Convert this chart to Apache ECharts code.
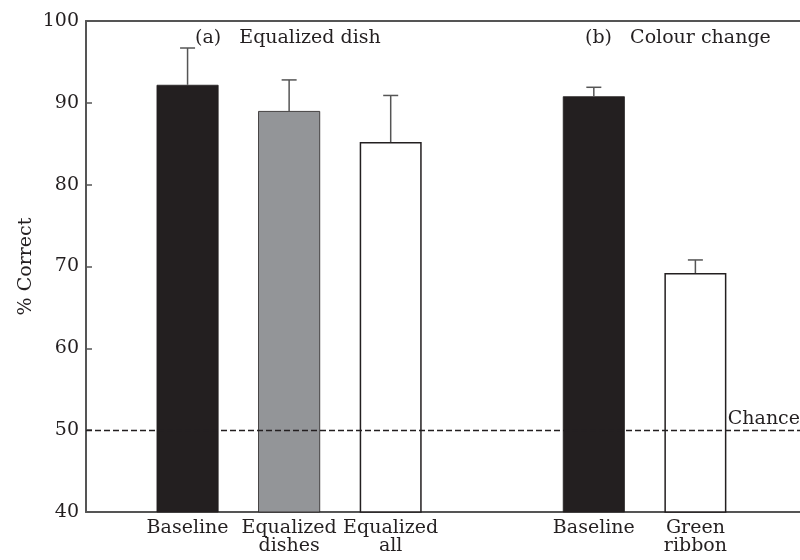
<!DOCTYPE html>
<html>
<head>
<meta charset="utf-8">
<script src="https://cdn.jsdelivr.net/npm/echarts@6/dist/echarts.min.js"></script>
<style>
  html, body { margin: 0; padding: 0; background: #fff; }
  #chart { width: 800px; height: 560px; }
</style>
</head>
<body>
<div id="chart"></div>
<script>
// slot positions on the x scale (gap at 4 splits panel a from panel b)
const positions = [1, 2, 3, 5, 6]
const labels = ['Baseline', 'Equalized\ndishes', 'Equalized\nall', 'Baseline', 'Green\nribbon']
const means = [92.2, 89.0, 85.2, 90.8, 69.2]
const upper = [96.7, 92.8, 90.9, 91.9, 70.8]
const fills = ['#231f20', '#939598', '#ffffff', '#231f20', '#ffffff']
const chanceLevel = 50

const ink = '#231f20'
const axisGrey = '#555555'
const font = 'DejaVu Serif'

const chart = echarts.init(document.getElementById('chart'))

const labelFor = {}
positions.forEach((p, i) => { labelFor[p] = labels[i] })

const barData = positions.map((p, i) => ({
  value: [p, means[i]],
  itemStyle: { color: fills[i], borderColor: ink, borderWidth: fills[i] === '#ffffff' ? 1.5 : 0.8 }
}))
const errData = positions.map((p, i) => [p, means[i], upper[i]])

const option = {
  animation: false,
  grid: { left: 86, right: 0, top: 21, bottom: 48 },
  xAxis: [
    {
      type: 'value',
      min: 0,
      max: 7.03,
      interval: 1,
      splitLine: { show: false },
      axisLine: { lineStyle: { color: axisGrey, width: 2 } },
      axisTick: { show: false },
      axisLabel: {
        color: ink,
        fontFamily: font,
        fontSize: 19,
        lineHeight: 18,
        margin: 7,
        showMinLabel: true,
        showMaxLabel: false,
        formatter: v => labelFor[v] || ''
      }
    },
    {
      type: 'value',
      position: 'top',
      min: 0,
      max: 7.03,
      splitLine: { show: false },
      axisLine: { show: true, lineStyle: { color: axisGrey, width: 2 } },
      axisTick: { show: false },
      axisLabel: { show: false }
    }
  ],
  yAxis: {
    type: 'value',
    min: 40,
    max: 100,
    interval: 10,
    name: '% Correct',
    nameLocation: 'middle',
    nameGap: 50,
    nameMoveOverlap: false,
    nameTextStyle: { color: ink, fontFamily: font, fontSize: 19 },
    splitLine: { show: false },
    axisLine: { show: true, lineStyle: { color: axisGrey, width: 2 } },
    axisTick: { show: true, inside: true, length: 6, lineStyle: { color: axisGrey, width: 1.5 } },
    axisLabel: { color: ink, fontFamily: font, fontSize: 19, margin: 7 }
  },
  graphic: [
    {
      type: 'text', left: 195, top: 29,
      style: { text: '(a)   Equalized dish', fill: ink, font: '19px "DejaVu Serif"' }
    },
    {
      type: 'text', left: 585, top: 29,
      style: { text: '(b)   Colour change', fill: ink, font: '19px "DejaVu Serif"' }
    }
  ],
  series: [
    {
      type: 'bar',
      barWidth: 62,
      data: barData,
      z: 2
    },
    {
      type: 'custom',
      z: 3,
      data: errData,
      renderItem: (params, api) => {
        const base = api.coord([api.value(0), api.value(1)])
        const top = api.coord([api.value(0), api.value(2)])
        const half = 7.5
        const style = { stroke: axisGrey, lineWidth: 1.5 }
        return {
          type: 'group',
          children: [
            { type: 'line', shape: { x1: base[0], y1: base[1], x2: top[0], y2: top[1] }, style },
            { type: 'line', shape: { x1: top[0] - half, y1: top[1], x2: top[0] + half, y2: top[1] }, style }
          ]
        }
      }
    },
    {
      type: 'line',
      data: [],
      markLine: {
        silent: true,
        symbol: 'none',
        lineStyle: { color: ink, type: [6, 3], width: 1.3 },
        label: {
          show: true,
          position: 'insideEndTop',
          formatter: 'Chance',
          color: ink,
          fontFamily: font,
          fontSize: 19,
          distance: [0, 2]
        },
        data: [{ yAxis: chanceLevel }]
      }
    }
  ]
}

chart.setOption(option)
</script>
</body>
</html>
